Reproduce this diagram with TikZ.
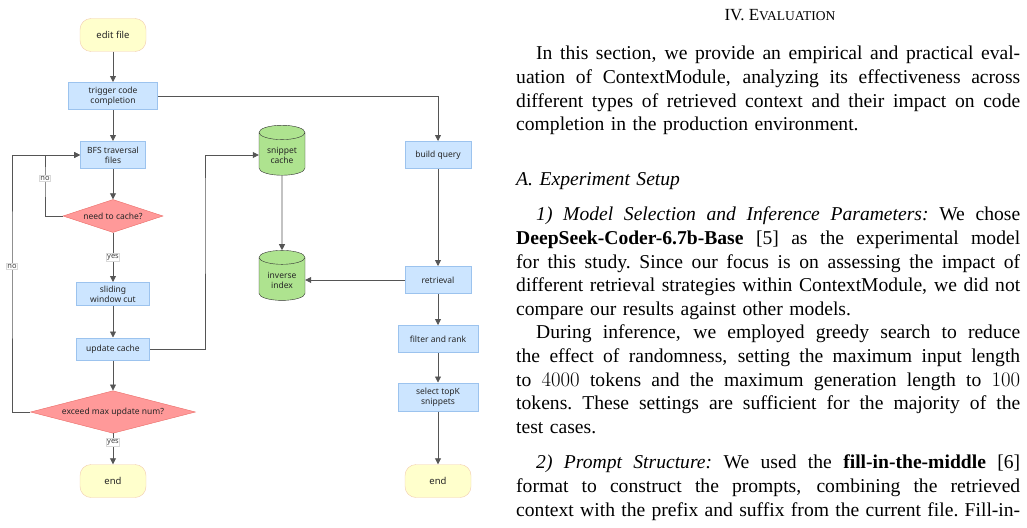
\documentclass[tikz,border=0pt]{standalone}
\usepackage{fontspec}
\setmainfont{Liberation Serif}
\newfontfamily\flowfont{Noto Sans}
\usetikzlibrary{shapes.geometric,arrows.meta,positioning}
\definecolor{procfill}{HTML}{CCE5FF}
\definecolor{procline}{HTML}{9CC3EE}
\definecolor{termfill}{HTML}{FFFFCC}
\definecolor{termline}{HTML}{F2CDB0}
\definecolor{decfill}{HTML}{FF9999}
\definecolor{decline}{HTML}{EA6B66}
\definecolor{dbfill}{HTML}{AEE38F}
\definecolor{flowline}{HTML}{555555}
\newcommand\jline[1]{\noindent\hbox to 504pt{\spaceskip=0.25em plus 1em minus 0.05em\xspaceskip=\spaceskip #1}\par}
\newcommand\pline[1]{\noindent\hbox{#1}\par}
\tikzset{
  proc/.style={draw=procline,fill=procfill,line width=1pt,align=center,text=black!85,font=\flowfont\fontsize{8.5}{10}\selectfont,inner sep=1pt},
  term/.style={draw=termline,fill=termfill,rounded corners=11pt,minimum width=66pt,minimum height=33pt,text=black!85,font=\flowfont\fontsize{9.5}{11}\selectfont},
  dec/.style={diamond,aspect=3,draw=decline,fill=decfill,inner sep=0pt,text=black!85,font=\flowfont\fontsize{8.5}{10}\selectfont},
  db/.style={cylinder,shape border rotate=90,aspect=0.45,draw=black!80,fill=dbfill,minimum width=46pt,minimum height=50pt,align=center,text=black!85,font=\flowfont\fontsize{8.5}{10}\selectfont,inner sep=1pt},
  flow/.style={draw=flowline,line width=0.8pt,-{Triangle[length=6pt,width=6pt]}},
  lbl/.style={fill=white,draw=black!15,inner sep=1pt,text=black!75,font=\flowfont\fontsize{7.5}{8}\selectfont}
}
\begin{document}
\begin{tikzpicture}[x=1pt,y=-1pt]
\useasboundingbox (0,0) rectangle (1027,527);
% left column
\node[term] (edit) at (113,35) {edit file};
\node[proc,minimum width=89pt,minimum height=27pt] (trig) at (113,96) {trigger code\\completion};
\node[proc,minimum width=65pt,minimum height=27pt] (bfs) at (113,155) {BFS traversal\\files};
\node[dec,minimum width=100pt,minimum height=33pt] (need) at (113,216) {need to cache?};
\node[proc,minimum width=73pt,minimum height=23pt] (slide) at (113,294) {sliding\\window cut};
\node[proc,minimum width=73pt,minimum height=22pt] (upd) at (113,349) {update cache};
\node[dec,minimum width=165pt,minimum height=41pt] (exceed) at (113,412) {exceed max update num?};
\node[term] (endl) at (113,481) {end};
% middle column
\node[db] (snip) at (282,155) {snippet\\cache};
\node[db] (inv) at (282,280) {inverse\\index};
% right column
\node[proc,minimum width=66pt,minimum height=27pt] (query) at (438,155) {build query};
\node[proc,minimum width=66pt,minimum height=27pt] (retr) at (438,280) {retrieval};
\node[proc,minimum width=80pt,minimum height=27pt] (filt) at (438,339) {filter and rank};
\node[proc,minimum width=80pt,minimum height=28pt] (topk) at (438,397) {select topK\\snippets};
\node[term] (endr) at (438,481) {end};
% connectors
\draw[flow] (edit) -- (trig);
\draw[flow] (trig) -- (bfs);
\draw[flow] (bfs) -- (need);
\draw[flow] (need) -- node[lbl] {yes} (slide);
\draw[flow] (slide) -- (upd);
\draw[flow] (upd) -- (exceed);
\draw[flow] (exceed) -- node[lbl,pos=0.3] {yes} (endl);
\draw[flow] (need.west) -| (45,178) node[lbl] {no} |- (bfs.west);
\draw[flow] (exceed.west) -| (12,266) node[lbl] {no} |- (bfs.west);
\draw[flow] (upd.east) -| (205,200) |- (snip.west);
\draw[flow] (snip) -- (inv);
\draw[flow] (trig.east) -| (query.north);
\draw[flow] (query) -- (retr);
\draw[flow] (retr) -- (inv);
\draw[flow] (retr) -- (filt);
\draw[flow] (filt) -- (topk);
\draw[flow] (topk) -- (endr);
% text column
\node[font=\fontsize{17}{19}\selectfont] (title) at (780,15) {IV. E{\fontsize{13.5}{19}\selectfont VALUATION}};
\node[anchor=north west,text width=504pt,inner sep=0pt,font=\fontsize{19.6}{23.6}\selectfont] (body) at (516,46) {%
\parskip=0pt
\jline{\hspace*{20pt}In this section, we provide an empirical and practical eval-}
\jline{uation of ContextModule, analyzing its effectiveness across}
\jline{different types of retrieved context and their impact on code}
\pline{completion in the production environment.}
\vspace{31pt}
\pline{\textit{A. Experiment Setup}}
\vspace{12pt}
\jline{\hspace*{20pt}\textit{1) Model Selection and Inference Parameters:} We chose}
\jline{\textbf{DeepSeek-Coder-6.7b-Base} [5] as the experimental model}
\jline{for this study. Since our focus is on assessing the impact of}
\jline{different retrieval strategies within ContextModule, we did not}
\pline{compare our results against other models.}
\jline{\hspace*{20pt}During inference, we employed greedy search to reduce}
\jline{the effect of randomness, setting the maximum input length}
\jline{to $4000$ tokens and the maximum generation length to $100$}
\jline{tokens. These settings are sufficient for the majority of the}
\pline{test cases.}
\vspace{12pt}
\jline{\hspace*{20pt}\textit{2) Prompt Structure:} We used the \textbf{fill-in-the-middle} [6]}
\jline{format to construct the prompts, combining the retrieved}
\jline{context with the prefix and suffix from the current file. Fill-in-}};
\end{tikzpicture}
\end{document}
